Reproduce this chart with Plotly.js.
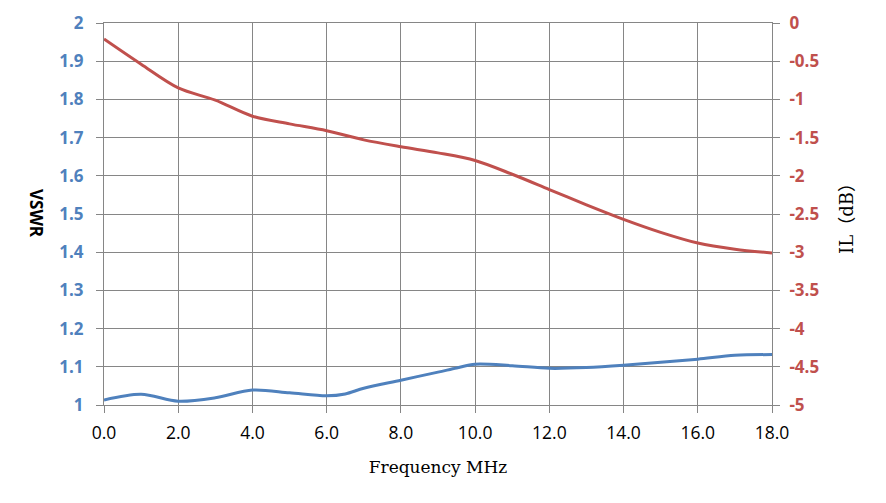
<!DOCTYPE html>
<html>
<head>
<meta charset="utf-8">
<script src="https://cdn.plot.ly/plotly-3.0.1.min.js"></script>
<style>
  body { margin: 0; background: #fff; }
  #chart { width: 886px; height: 503px; }
</style>
</head>
<body>
<div id="chart"></div>
<script>
// frequency points (MHz)
var freq = [0, 1, 2, 3, 4, 5, 6, 6.5, 7, 8, 9, 9.5, 10, 11, 12, 13, 14, 15, 16, 17, 18];

// VSWR, left axis
var vswr = [1.013, 1.028, 1.010, 1.019, 1.039, 1.032, 1.024, 1.029, 1.044, 1.065, 1.086, 1.097, 1.107,
            1.103, 1.096, 1.098, 1.104, 1.112, 1.120, 1.130, 1.132];

// insertion loss (dB), right axis
var ilFreq = [0, 1, 2, 3, 4, 5, 6, 7, 8, 9, 10, 11, 12, 13, 14, 15, 16, 17, 18];
var il = [-0.21, -0.54, -0.85, -1.01, -1.22, -1.32, -1.41, -1.53, -1.62, -1.70, -1.80,
          -1.98, -2.18, -2.38, -2.57, -2.74, -2.88, -2.96, -3.01];

var ilTickVals = [0, -0.5, -1, -1.5, -2, -2.5, -3, -3.5, -4, -4.5, -5];
var ilTickText = ["0", "-0.5", "-1", "-1.5", "-2", "-2.5", "-3", "-3.5", "-4", "-4.5", "-5"];

var BLUE = "#4F81BD";
var RED = "#C0504D";
var GRID = "#868686";

var traces = [
  {
    x: freq, y: vswr, type: "scatter", mode: "lines", name: "VSWR",
    line: { color: BLUE, width: 3, shape: "spline", smoothing: 0.9 }
  },
  {
    x: ilFreq, y: il, type: "scatter", mode: "lines", name: "IL", yaxis: "y2",
    line: { color: RED, width: 3, shape: "spline", smoothing: 0.9 }
  }
];

var layout = {
  width: 886,
  height: 503,
  margin: { l: 104, r: 114, t: 23, b: 98 },
  paper_bgcolor: "#fff",
  plot_bgcolor: "#fff",
  showlegend: false,
  font: { family: "Open Sans, sans-serif", color: "#000" },
  xaxis: {
    range: [0, 18], dtick: 2, tick0: 0, tickformat: ".1f",
    showgrid: true, gridcolor: GRID, gridwidth: 1,
    showline: true, linecolor: GRID, mirror: true,
    ticks: "outside", ticklen: 7, tickcolor: GRID,
    ticklabelstandoff: 5,
    zeroline: false,
    tickfont: { size: 17.5, color: "#000" },
    title: { text: "Frequency MHz", font: { family: "DejaVu Serif, serif", size: 17 }, standoff: 18 }
  },
  yaxis: {
    range: [1, 2], dtick: 0.1, tick0: 1,
    showgrid: true, gridcolor: GRID, gridwidth: 1,
    showline: true, linecolor: GRID,
    ticks: "outside", ticklen: 7, tickcolor: GRID,
    ticklabelstandoff: 9,
    zeroline: false,
    tickfont: { size: 17, color: BLUE, family: "Open Sans, sans-serif", weight: "bold" }
  },
  yaxis2: {
    overlaying: "y", side: "right",
    range: [-5, 0], tickvals: ilTickVals, ticktext: ilTickText,
    showgrid: false, showline: true, linecolor: GRID,
    ticks: "outside", ticklen: 7, tickcolor: GRID,
    ticklabelstandoff: 6,
    zeroline: false,
    tickfont: { size: 17, color: RED, family: "Open Sans, sans-serif", weight: "bold" },
    title: { text: "IL（dB）", font: { family: "DejaVu Serif, Noto Sans CJK SC, serif", size: 18, color: "#000" }, standoff: 22 }
  },
  annotations: [
    {
      text: "VSWR", xref: "paper", yref: "paper", x: -0.1003, y: 0.5,
      xanchor: "center", yanchor: "middle",
      showarrow: false, textangle: 90,
      font: { family: "Open Sans, sans-serif", size: 17, color: "#000", weight: "bold" }
    }
  ]
};

Plotly.newPlot("chart", traces, layout, { displayModeBar: false, staticPlot: true });
</script>
</body>
</html>
